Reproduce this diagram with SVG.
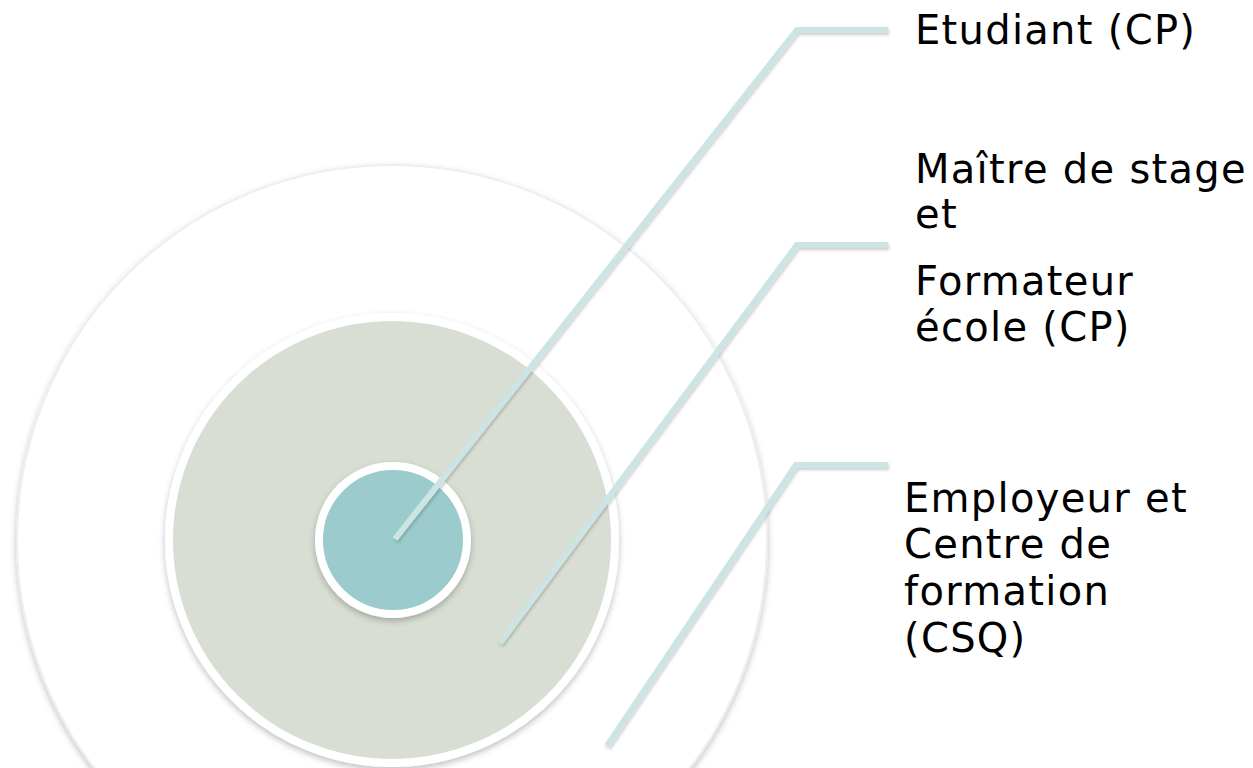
<svg xmlns="http://www.w3.org/2000/svg" width="1253" height="768" viewBox="0 0 1253 768">
<style>
.lbl{font-family:"DejaVu Sans","Verdana",sans-serif;font-size:40px;letter-spacing:1.3px;fill:#000}
.conn{fill:none;stroke:#cce4e3;stroke-width:6;stroke-linejoin:miter;stroke-linecap:butt}
</style>
<defs>
<filter id="sh" x="-20%" y="-20%" width="140%" height="140%">
<feDropShadow dx="0" dy="3" stdDeviation="3" flood-color="#000" flood-opacity="0.25"/>
</filter>
<filter id="shl" x="-10%" y="-50%" width="120%" height="200%">
<feDropShadow dx="1" dy="2" stdDeviation="1.5" flood-color="#000" flood-opacity="0.2"/>
</filter>
</defs>
<rect width="1253" height="768" fill="#fff"/>
<g id="outer">
<circle cx="392" cy="540" r="375" fill="#fff" stroke="#eeeeee" stroke-width="2" filter="url(#sh)"/>
</g>
<g id="middle">
<circle cx="392" cy="540" r="223" fill="#d9ded4" stroke="#fff" stroke-width="8" filter="url(#sh)"/>
</g>
<g id="inner">
<circle cx="393" cy="540" r="74" fill="#9bcbcc" stroke="#fff" stroke-width="8" filter="url(#sh)"/>
</g>
<g id="connectors" filter="url(#shl)">
<polyline class="conn" points="395,539 797,30 888,30"/>
<polyline class="conn" points="500,643 797,245 888,245"/>
<polyline class="conn" points="607,746 796,465 888,465"/>
</g>
<g id="label-etudiant">
<text class="lbl" x="915" y="44">Etudiant (CP)</text>
</g>
<g id="label-maitre">
<text class="lbl" x="915" y="183">Maître de stage</text>
<text class="lbl" x="915" y="228">et</text>
<text class="lbl" x="915" y="295">Formateur</text>
<text class="lbl" x="915" y="341">école (CP)</text>
</g>
<g id="label-employeur">
<text class="lbl" x="904" y="512">Employeur et</text>
<text class="lbl" x="904" y="558">Centre de</text>
<text class="lbl" x="904" y="605">formation</text>
<text class="lbl" x="904" y="652">(CSQ)</text>
</g>
</svg>
